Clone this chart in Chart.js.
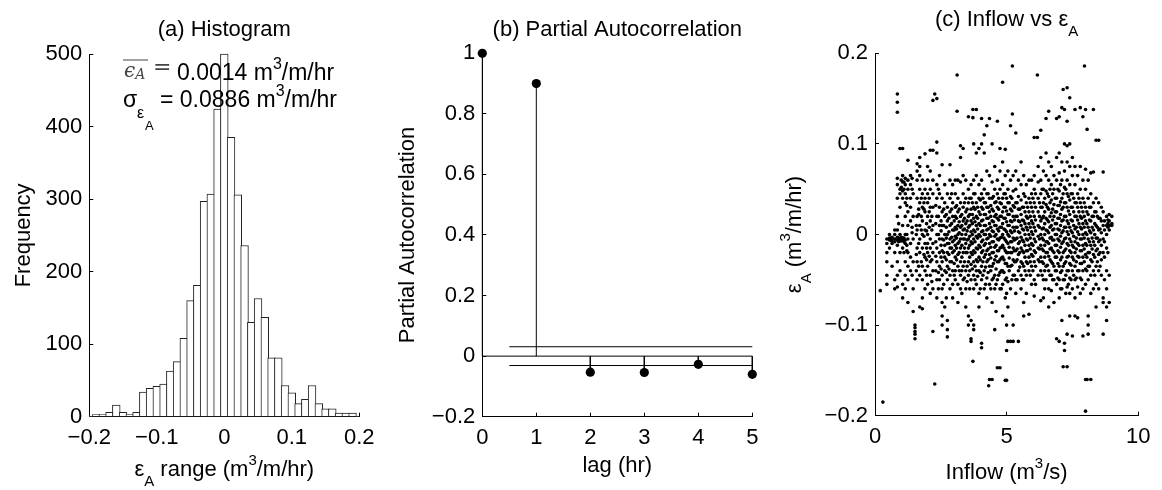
<!DOCTYPE html>
<html>
<head>
<meta charset="utf-8">
<script src="https://cdn.jsdelivr.net/npm/chart.js@4.4.1/dist/chart.umd.min.js"></script>
<style>
html, body { margin: 0; padding: 0; background: #fff; }
#wrap { position: relative; width: 1162px; height: 490px; }
canvas { position: absolute; left: 0; top: 0; }
</style>
</head>
<body>
<div id="wrap">
  <canvas id="histChart" width="1162" height="490"></canvas>
  <canvas id="pacfChart" width="1162" height="490"></canvas>
  <canvas id="inflowChart" width="1162" height="490"></canvas>
</div>
<script>
// (a) histogramme des erreurs
const binCenters = [-0.2, -0.19, -0.18, -0.17, -0.16, -0.15, -0.14, -0.13, -0.12, -0.11,
  -0.1, -0.09, -0.08, -0.07, -0.06, -0.05, -0.04, -0.03, -0.02, -0.01,
  0, 0.01, 0.02, 0.03, 0.04, 0.05, 0.06, 0.07, 0.08, 0.09,
  0.1, 0.11, 0.12, 0.13, 0.14, 0.15, 0.16, 0.17, 0.18, 0.19, 0.2];
const binCounts = [1, 3, 3, 6, 16, 6, 3, 6, 34, 39,
  42, 45, 63, 76, 108, 160, 181, 297, 307, 424,
  500, 385, 306, 236, 130, 163, 137, 81, 81, 43,
  33, 18, 24, 43, 18, 11, 11, 5, 5, 5, 1];
const histXTicks = [-0.2, -0.1, 0, 0.1, 0.2];
const histYTicks = [0, 100, 200, 300, 400, 500];

// (b) autocorrelation partielle
const lags = [0, 1, 2, 3, 4, 5];
const pacfValues = [1, 0.9, -0.053, -0.054, -0.027, -0.06];
const confBound = 0.031;
const confStart = 0.5;
const lagTicks = [0, 1, 2, 3, 4, 5];
const pacfTicks = [-0.2, 0, 0.2, 0.4, 0.6, 0.8, 1];

// (c) debit entrant vs erreur : [debit, erreurs...]
const inflowStreaks = [
  [0.2, -0.062], [0.3, -0.185],
  [0.45, -0.005, -0.01, -0.02, -0.03, -0.045, -0.055],
  [0.55, 0.0, -0.004, -0.006, -0.015],
  [0.65, -0.003, -0.006, -0.01, -0.035],
  [0.75, 0.005, 0.0, -0.005, -0.008, -0.02, -0.05, -0.06],
  [0.85, 0.155, 0.146, 0.135, 0.062, 0.055, 0.04, 0.02, 0.005, -0.003, -0.006, -0.012, -0.03, -0.045, -0.058],
  [0.95, 0.095, 0.05, 0.045, 0.03, 0.0, -0.005, -0.007, -0.02, -0.04],
  [1.05, 0.095, 0.065, 0.058, 0.048, 0.04, 0.01, -0.004, -0.006, -0.015, -0.055, -0.07],
  [1.15, 0.062, 0.055, 0.045, 0.035, 0.02, 0.0, -0.006, -0.01, -0.03, -0.045, -0.06],
  [1.25, 0.082, 0.06, 0.05, 0.025, 0.01, -0.005, -0.02, -0.035, -0.05, -0.075],
  [1.35, 0.065, 0.055, 0.04, 0.03, 0.015, -0.01, -0.025, -0.04],
  [1.45, 0.045, 0.02, -0.005, -0.03, -0.06, -0.085],
  [1.52, -0.1, -0.103, -0.107, -0.11, -0.115],
  [1.6, 0.078, 0.07, 0.06, 0.04, 0.02, 0.005, -0.015, -0.03, -0.05],
  [1.7, 0.085, 0.075, 0.065, 0.05, 0.035, 0.01, -0.005, -0.02, -0.045, -0.08],
  [1.8, 0.06, 0.045, 0.03, 0.015, 0.0, -0.015, -0.035, -0.05, -0.07, -0.082],
  [1.9, 0.089, 0.05, 0.04, 0.025, 0.005, -0.01, -0.025, -0.04, -0.06],
  [2.0, 0.075, 0.06, 0.045, 0.035, 0.02, 0.0, -0.01, -0.02, -0.035, -0.055],
  [2.1, 0.093, 0.07, 0.05, 0.03, 0.015, -0.005, -0.015, -0.03, -0.045, -0.065],
  [2.2, 0.148, 0.093, 0.06, 0.045, 0.03, 0.01, -0.01, -0.02, -0.04, -0.06, -0.107],
  [2.27, 0.155, -0.165],
  [2.35, 0.15, 0.102, 0.09, 0.055, 0.04, 0.02, 0.0, -0.015, -0.03, -0.05, -0.07],
  [2.45, 0.065, 0.045, 0.03, 0.01, -0.005, -0.02, -0.035, -0.05],
  [2.55, 0.077, 0.04, 0.025, 0.01, -0.005, -0.018, -0.03, -0.045, -0.06, -0.075, -0.09, -0.1],
  [2.65, 0.055, 0.035, 0.02, 0.0, -0.012, -0.025, -0.04, -0.08],
  [2.75, 0.045, 0.03, 0.015, 0.0, -0.01, -0.02, -0.035, -0.05, -0.095, -0.105, -0.113],
  [2.85, 0.077, 0.06, 0.04, 0.025, 0.01, -0.005, -0.015, -0.03, -0.045, -0.06],
  [2.95, 0.055, 0.035, 0.02, 0.005, -0.008, -0.02, -0.04, -0.055, -0.07],
  [3.05, 0.06, 0.045, 0.03, 0.02, 0.008, -0.002, -0.012, -0.025, -0.04, -0.05],
  [3.12, 0.176, 0.136],
  [3.15, 0.06, 0.04, 0.025, 0.01, 0.0, -0.01, -0.022, -0.035, -0.055, -0.075],
  [3.25, 0.098, 0.085, 0.058, 0.035, 0.02, 0.008, -0.005, -0.015, -0.03, -0.045, -0.06],
  [3.35, 0.095, 0.065, 0.045, 0.03, 0.015, 0.005, -0.005, -0.02, -0.035, -0.05],
  [3.45, 0.06, 0.04, 0.025, 0.012, 0.0, -0.01, -0.02, -0.04, -0.06, -0.08],
  [3.55, 0.13, 0.05, 0.035, 0.02, 0.008, -0.005, -0.015, -0.03, -0.045, -0.09, -0.1],
  [3.65, 0.055, 0.04, 0.028, 0.015, 0.003, -0.008, -0.02, -0.033, -0.05, -0.095, -0.115, -0.118],
  [3.72, 0.138, 0.129, -0.14],
  [3.75, 0.1, 0.06, 0.045, 0.03, 0.018, 0.005, -0.005, -0.018, -0.03, -0.045, -0.06, -0.1, -0.105],
  [3.85, 0.138, 0.09, 0.065, 0.035, 0.02, 0.01, -0.002, -0.015, -0.028, -0.04, -0.055],
  [3.95, 0.095, 0.055, 0.04, 0.025, 0.012, 0.0, -0.012, -0.025, -0.04, -0.065, -0.08],
  [4.05, 0.128, 0.1, 0.06, 0.045, 0.03, 0.015, 0.003, -0.008, -0.02, -0.035, -0.05, -0.12, -0.125],
  [4.15, 0.11, 0.09, 0.05, 0.035, 0.022, 0.01, 0.0, -0.012, -0.025, -0.04, -0.06],
  [4.25, 0.12, 0.07, 0.045, 0.03, 0.018, 0.005, -0.005, -0.018, -0.03, -0.048, -0.07],
  [4.32, -0.167],
  [4.35, 0.128, 0.065, 0.04, 0.025, 0.012, 0.0, -0.01, -0.022, -0.035, -0.055, -0.16],
  [4.45, 0.1, 0.058, 0.04, 0.028, 0.015, 0.004, -0.008, -0.02, -0.035, -0.05, -0.075, -0.16],
  [4.55, 0.075, 0.05, 0.035, 0.02, 0.01, -0.002, -0.014, -0.028, -0.045, -0.06, -0.105],
  [4.65, 0.125, 0.06, 0.045, 0.03, 0.018, 0.006, -0.005, -0.018, -0.03, -0.05, -0.147],
  [4.75, 0.095, 0.07, 0.05, 0.035, 0.02, 0.008, -0.004, -0.015, -0.028, -0.042, -0.06, -0.147],
  [4.85, 0.168, 0.08, 0.055, 0.04, 0.025, 0.012, 0.0, -0.012, -0.025, -0.04, -0.055, -0.09],
  [4.95, 0.094, 0.065, 0.045, 0.03, 0.018, 0.005, -0.006, -0.018, -0.032, -0.05, -0.07, -0.161],
  [5.0, -0.1, -0.128, -0.161],
  [5.05, 0.07, 0.05, 0.035, 0.022, 0.01, 0.0, -0.01, -0.02, -0.035, -0.052, -0.08, -0.118],
  [5.15, 0.12, 0.06, 0.042, 0.028, 0.015, 0.004, -0.008, -0.02, -0.035, -0.06, -0.118],
  [5.22, 0.186, 0.133],
  [5.25, 0.065, 0.048, 0.032, 0.02, 0.008, -0.004, -0.015, -0.028, -0.045, -0.1, -0.118],
  [5.35, 0.112, 0.07, 0.05, 0.035, 0.02, 0.008, -0.005, -0.018, -0.03, -0.05, -0.065],
  [5.45, 0.06, 0.042, 0.028, 0.015, 0.003, -0.01, -0.022, -0.04, -0.118],
  [5.55, 0.08, 0.055, 0.038, 0.022, 0.01, -0.003, -0.015, -0.03, -0.045, -0.06],
  [5.65, 0.065, 0.045, 0.03, 0.015, 0.005, -0.008, -0.02, -0.035, -0.05, -0.075, -0.09],
  [5.75, 0.055, 0.035, 0.02, 0.008, -0.005, -0.018, -0.03, -0.045, -0.065],
  [5.85, 0.06, 0.04, 0.025, 0.012, 0.0, -0.012, -0.025, -0.04, -0.088],
  [5.95, 0.06, 0.045, 0.03, 0.015, 0.003, -0.01, -0.022, -0.035, -0.055],
  [6.05, 0.107, 0.065, 0.05, 0.035, 0.02, 0.008, -0.005, -0.018, -0.03, -0.05, -0.068],
  [6.17, 0.176, 0.107],
  [6.2, 0.075, 0.058, 0.04, 0.025, 0.01, -0.002, -0.015, -0.028, -0.045],
  [6.3, 0.115, 0.085, 0.06, 0.045, 0.03, 0.015, 0.0, -0.012, -0.025, -0.04, -0.073],
  [6.4, 0.07, 0.05, 0.035, 0.02, 0.007, -0.006, -0.018, -0.032, -0.05, -0.07],
  [6.5, 0.128, 0.09, 0.065, 0.048, 0.033, 0.018, 0.005, -0.008, -0.02, -0.035, -0.05],
  [6.6, 0.136, 0.08, 0.06, 0.042, 0.028, 0.014, 0.002, -0.01, -0.024, -0.04, -0.06, -0.08],
  [6.7, 0.075, 0.055, 0.038, 0.024, 0.01, -0.003, -0.015, -0.03, -0.045, -0.062],
  [6.8, 0.065, 0.05, 0.033, 0.02, 0.006, -0.006, -0.02, -0.035, -0.05, -0.075],
  [6.9, 0.128, 0.085, 0.06, 0.04, 0.025, 0.012, 0.0, -0.012, -0.025, -0.04, -0.055, -0.115],
  [7.0, 0.13, 0.09, 0.068, 0.048, 0.032, 0.018, 0.005, -0.007, -0.02, -0.035, -0.05, -0.07, -0.118],
  [7.1, 0.14, 0.08, 0.06, 0.04, 0.028, 0.015, 0.002, -0.01, -0.025, -0.04, -0.06, -0.095],
  [7.15, 0.16, -0.146],
  [7.2, 0.138, 0.1, 0.07, 0.052, 0.035, 0.02, 0.008, -0.005, -0.018, -0.032, -0.05, -0.12, -0.128],
  [7.3, 0.162, 0.125, 0.098, 0.08, 0.06, 0.045, 0.03, 0.015, 0.003, -0.01, -0.025, -0.04, -0.058, -0.11, -0.146],
  [7.4, 0.151, 0.1, 0.075, 0.055, 0.038, 0.022, 0.008, -0.005, -0.018, -0.032, -0.048, -0.065, -0.09],
  [7.5, 0.085, 0.065, 0.045, 0.03, 0.015, 0.002, -0.012, -0.025, -0.04, -0.06, -0.112],
  [7.6, 0.138, 0.075, 0.055, 0.035, 0.02, 0.006, -0.008, -0.02, -0.035, -0.05, -0.07, -0.09],
  [7.7, 0.065, 0.045, 0.03, 0.016, 0.003, -0.01, -0.024, -0.04, -0.058, -0.092],
  [7.8, 0.14, 0.075, 0.05, 0.035, 0.02, 0.008, -0.005, -0.018, -0.032, -0.048, -0.065],
  [7.9, 0.13, 0.06, 0.04, 0.025, 0.012, 0.0, -0.012, -0.025, -0.04, -0.06, -0.112],
  [7.96, 0.186],
  [8.0, 0.138, 0.072, 0.05, 0.03, 0.015, 0.002, -0.01, -0.022, -0.038, -0.055, -0.16, -0.195],
  [8.06, 0.116, -0.16],
  [8.1, 0.06, 0.04, 0.022, 0.008, -0.005, -0.02, -0.035, -0.05, -0.09, -0.1, -0.11],
  [8.2, 0.068, 0.045, 0.03, 0.015, 0.002, -0.012, -0.028, -0.045, -0.065, -0.16],
  [8.3, 0.138, 0.069, 0.035, 0.02, 0.005, -0.008, -0.022, -0.04, -0.06],
  [8.4, 0.104, 0.04, 0.025, 0.01, -0.004, -0.018, -0.035, -0.055, -0.08],
  [8.5, 0.104, 0.035, 0.018, 0.005, -0.008, -0.022, -0.04, -0.06],
  [8.6, 0.03, 0.015, 0.002, -0.012, -0.028, -0.045],
  [8.67, 0.069, 0.025, 0.01, -0.005, -0.02, -0.07, -0.075, -0.11],
  [8.8, 0.02, 0.01, 0.0, -0.015, -0.04, -0.06, -0.08, -0.095],
  [8.9, 0.022, 0.015, 0.01, 0.005, -0.045, -0.075],
  [9.0, 0.02, 0.012, 0.01]
];
// noyau dense autour de zero
const inflowCore = [
  [0.62, -0.004, -0.005, -0.006, -0.007],
  [0.9, 0.012, -0.004, -0.005, -0.006, -0.008],
  [1.0, 0.06, 0.052, -0.003, -0.005, -0.007],
  [1.1, 0.058, 0.05, -0.004, -0.008, -0.02],
  [1.21, 0.04, 0.032, 0.0, -0.012, -0.018],
  [1.41, 0.062, 0.05, 0.008, 0.002, -0.045],
  [1.57, 0.01, 0.0, -0.022, -0.04],
  [1.66, 0.028, 0.022, -0.01, -0.035],
  [1.76, 0.04, 0.02, 0.005, -0.03],
  [1.86, 0.035, 0.028, -0.002, -0.022],
  [1.96, 0.012, 0.004, -0.015, -0.028, -0.045],
  [2.06, 0.04, 0.025, 0.008, -0.024],
  [2.16, 0.02, 0.005, -0.028, -0.052],
  [2.31, 0.032, 0.012, -0.008, -0.024, -0.04],
  [2.41, 0.05, 0.02, 0.0, -0.042, -0.06],
  [2.51, 0.015, 0.004, -0.012, -0.025, -0.038],
  [2.61, 0.028, 0.01, -0.006, -0.02, -0.055],
  [2.71, 0.022, 0.008, -0.004, -0.028, -0.042, -0.07],
  [2.81, 0.018, 0.003, -0.01, -0.022, -0.038],
  [2.91, 0.045, 0.028, 0.012, -0.003, -0.015, -0.03],
  [3.01, 0.015, 0.005, -0.006, -0.018, -0.032, -0.045],
  [3.1, 0.032, 0.018, 0.006, -0.004, -0.015, -0.028],
  [3.2, 0.028, 0.014, 0.002, -0.008, -0.02, -0.04],
  [3.3, 0.022, 0.01, 0.0, -0.012, -0.025, -0.04, -0.065],
  [3.4, 0.035, 0.018, 0.006, -0.005, -0.015, -0.03, -0.048],
  [3.5, 0.028, 0.015, 0.004, -0.006, -0.02, -0.035, -0.052],
  [3.6, 0.04, 0.022, 0.01, -0.002, -0.012, -0.025, -0.04, -0.06],
  [3.7, 0.035, 0.022, 0.012, 0.0, -0.01, -0.022, -0.038],
  [3.8, 0.045, 0.028, 0.014, 0.003, -0.008, -0.02, -0.035, -0.05],
  [3.9, 0.03, 0.018, 0.006, -0.004, -0.016, -0.03, -0.046],
  [4.0, 0.038, 0.022, 0.01, -0.002, -0.014, -0.028, -0.042, -0.06],
  [4.1, 0.04, 0.028, 0.016, 0.004, -0.006, -0.018, -0.03, -0.045],
  [4.2, 0.035, 0.022, 0.01, 0.0, -0.01, -0.022, -0.036, -0.055],
  [4.3, 0.045, 0.03, 0.018, 0.006, -0.004, -0.016, -0.028, -0.042],
  [4.4, 0.032, 0.02, 0.008, -0.002, -0.014, -0.026, -0.04, -0.06],
  [4.5, 0.042, 0.026, 0.014, 0.003, -0.008, -0.02, -0.032, -0.048],
  [4.6, 0.036, 0.022, 0.01, 0.0, -0.012, -0.024, -0.038, -0.055, -0.085],
  [4.7, 0.04, 0.028, 0.016, 0.004, -0.006, -0.018, -0.03, -0.045],
  [4.8, 0.034, 0.02, 0.008, -0.003, -0.014, -0.026, -0.04, -0.06],
  [4.9, 0.045, 0.03, 0.018, 0.006, -0.004, -0.015, -0.028, -0.042],
  [5.0, 0.04, 0.026, 0.014, 0.003, -0.008, -0.02, -0.032, -0.048, -0.065],
  [5.1, 0.035, 0.022, 0.01, -0.002, -0.014, -0.026, -0.04],
  [5.2, 0.04, 0.026, 0.014, 0.002, -0.008, -0.02, -0.034, -0.05],
  [5.3, 0.03, 0.016, 0.004, -0.006, -0.018, -0.03, -0.045],
  [5.4, 0.035, 0.02, 0.008, -0.004, -0.016, -0.028, -0.05],
  [5.5, 0.028, 0.014, 0.002, -0.008, -0.02, -0.036],
  [5.6, 0.03, 0.016, 0.006, -0.006, -0.018, -0.032, -0.05],
  [5.7, 0.042, 0.025, 0.012, 0.0, -0.012, -0.025, -0.04],
  [5.8, 0.03, 0.018, 0.005, -0.006, -0.018, -0.032],
  [5.9, 0.035, 0.02, 0.008, -0.004, -0.016, -0.03, -0.045],
  [6.0, 0.04, 0.025, 0.012, 0.0, -0.012, -0.024, -0.04],
  [6.1, 0.045, 0.03, 0.016, 0.004, -0.008, -0.02, -0.035, -0.055],
  [6.25, 0.035, 0.02, 0.008, -0.005, -0.016, -0.03],
  [6.35, 0.05, 0.03, 0.018, 0.006, -0.004, -0.016, -0.03, -0.045],
  [6.45, 0.04, 0.025, 0.012, 0.0, -0.012, -0.025, -0.04, -0.06],
  [6.55, 0.045, 0.03, 0.016, 0.004, -0.008, -0.02, -0.034],
  [6.65, 0.05, 0.035, 0.02, 0.008, -0.004, -0.016, -0.028, -0.045],
  [6.75, 0.045, 0.028, 0.016, 0.005, -0.006, -0.018, -0.032, -0.05],
  [6.85, 0.04, 0.025, 0.012, 0.0, -0.012, -0.025, -0.04],
  [6.95, 0.05, 0.032, 0.018, 0.006, -0.005, -0.018, -0.032, -0.048],
  [7.05, 0.055, 0.036, 0.022, 0.01, -0.002, -0.014, -0.028, -0.042, -0.06],
  [7.15, 0.045, 0.03, 0.016, 0.004, -0.008, -0.02, -0.035, -0.05],
  [7.25, 0.05, 0.035, 0.02, 0.008, -0.004, -0.016, -0.03, -0.045, -0.065],
  [7.35, 0.042, 0.026, 0.012, 0.0, -0.012, -0.024, -0.04, -0.055],
  [7.45, 0.045, 0.03, 0.016, 0.004, -0.008, -0.02, -0.034, -0.05],
  [7.55, 0.04, 0.025, 0.01, -0.002, -0.014, -0.028, -0.045],
  [7.65, 0.035, 0.02, 0.008, -0.004, -0.016, -0.03, -0.048],
  [7.75, 0.04, 0.025, 0.012, 0.0, -0.012, -0.025, -0.04],
  [7.85, 0.03, 0.018, 0.006, -0.005, -0.018, -0.032, -0.05],
  [7.95, 0.035, 0.02, 0.008, -0.004, -0.016, -0.03],
  [8.05, 0.025, 0.012, 0.0, -0.012, -0.025, -0.04],
  [8.15, 0.03, 0.016, 0.004, -0.008, -0.02, -0.035],
  [8.25, 0.02, 0.008, -0.004, -0.016, -0.03],
  [8.35, 0.025, 0.012, 0.0, -0.012, -0.025, -0.045],
  [8.45, 0.02, 0.008, -0.004, -0.016, -0.03],
  [8.55, 0.018, 0.006, -0.006, -0.02, -0.035],
  [8.72, 0.015, 0.005, -0.008, -0.025, -0.05],
  [8.85, 0.016, 0.012, 0.008, -0.02]
];
const inflowTicks = [0, 5, 10];
const errTicks = [-0.2, -0.1, 0, 0.1, 0.2];

Chart.defaults.font.family = '"Liberation Sans", Arial, sans-serif';
Chart.defaults.font.size = 22;
Chart.defaults.color = '#000';

const SANS = '"Liberation Sans", Arial, sans-serif';

function fmt(v) {
    const r = Math.round(v * 1000) / 1000;
    return r < 0 ? '\u2212' + String(-r) : String(r);
}

// axe style MATLAB : graduations vers l'interieur, pas de grille
function axis(min, max, ticks, isY, size) {
    return {
        type: 'linear', min: min, max: max, offset: false,
        afterBuildTicks: s => { s.ticks = ticks.map(v => ({ value: v })); },
        afterFit: s => { if (isY) s.width = size; else s.height = size; },
        grid: { drawOnChartArea: false, drawTicks: true, tickLength: -4, color: '#000', offset: false },
        border: { display: true, color: '#000', width: 1 },
        ticks: { padding: isY ? 11 : 11.6, color: '#000', font: { size: 22 }, autoSkip: false, maxRotation: 0, callback: v => fmt(v) }
    };
}

// texte avec indices / exposants
function rich(ctx, segs, x, y, align, rot) {
    const fonts = { 0: '22px ' + SANS, 1: '15px ' + SANS, '-1': '15px ' + SANS };
    const dy = { 0: 0, 1: 10, '-1': -11 };
    let total = 0;
    const widths = segs.map(sg => {
        ctx.font = fonts[sg.s || 0];
        const w = ctx.measureText(sg.t).width;
        total += w;
        return w;
    });
    ctx.save();
    ctx.translate(x, y);
    if (rot) ctx.rotate(-Math.PI / 2);
    ctx.fillStyle = '#000';
    ctx.textAlign = 'left';
    ctx.textBaseline = 'alphabetic';
    let cx = align === 'center' ? -total / 2 : 0;
    segs.forEach((sg, i) => {
        ctx.font = fonts[sg.s || 0];
        ctx.fillText(sg.t, cx, dy[sg.s || 0]);
        cx += widths[i];
    });
    ctx.restore();
    return total;
}

function put(ctx, text, x, y, font, color) {
    ctx.font = font;
    ctx.fillStyle = color || '#000';
    ctx.textAlign = 'left';
    ctx.textBaseline = 'alphabetic';
    ctx.fillText(text, x, y);
    return ctx.measureText(text).width;
}

const basePlugins = { legend: { display: false }, tooltip: { enabled: false } };

// Graphique (a)
new Chart(document.getElementById('histChart'), {
    type: 'bar',
    data: {
        datasets: [{
            data: binCenters.map((c, i) => ({ x: c, y: binCounts[i] })),
            backgroundColor: '#fff',
            borderColor: '#222',
            borderWidth: 1,
            barThickness: 7.75,
            clip: { left: 0, right: 0, top: 4, bottom: 0 }
        }]
    },
    options: {
        responsive: false, animation: false, devicePixelRatio: 1,
        layout: { padding: { left: 0, top: 54, right: 802.7, bottom: 0 } },
        plugins: basePlugins,
        scales: {
            x: axis(-0.2, 0.2, histXTicks, false, 73.3),
            y: axis(0, 500, histYTicks, true, 89.3)
        }
    },
    plugins: [{
        id: 'histText',
        afterDraw(chart) {
            const ctx = chart.ctx, a = chart.chartArea;
            const cx = (a.left + a.right) / 2;
            rich(ctx, [{ t: '(a) Histogram' }], cx, 36, 'center');
            rich(ctx, [{ t: 'Frequency' }], 30, (a.top + a.bottom) / 2, 'center', true);
            rich(ctx, [{ t: 'ε' }, { t: 'A', s: 1 }, { t: ' range (m' }, { t: '3', s: -1 }, { t: '/m/hr)' }], cx, 476, 'center');
            ctx.save();
            // moyenne
            let w = put(ctx, 'ϵ', 124, 77, 'italic 20px "DejaVu Serif"', '#444');
            put(ctx, 'A', 124 + w, 79, 'italic 14px "DejaVu Serif"', '#444');
            ctx.fillStyle = '#444';
            ctx.fillRect(123, 59.5, 25, 1);
            put(ctx, '=', 153, 74, '22px "DejaVu Serif"', '#444');
            let x = 177;
            x += put(ctx, '0.0014 m', x, 80, '23px ' + SANS);
            x += put(ctx, '3', x, 69, '16px ' + SANS);
            put(ctx, '/m/hr', x, 80, '23px ' + SANS);
            // ecart type
            put(ctx, 'σ', 123, 107, '23px ' + SANS);
            put(ctx, 'ε', 137, 118, '16px ' + SANS);
            put(ctx, 'A', 145, 130, '13px ' + SANS);
            x = 160;
            x += put(ctx, '= 0.0886 m', x, 107, '23px ' + SANS);
            x += put(ctx, '3', x, 96, '16px ' + SANS);
            put(ctx, '/m/hr', x, 107, '23px ' + SANS);
            ctx.restore();
        }
    }]
});

// Graphique (b)
const stemSets = lags.map((lag, i) => ({
    data: [{ x: lag, y: 0 }, { x: lag, y: pacfValues[i] }],
    showLine: true, borderColor: '#000', borderWidth: 1, pointRadius: 0, clip: false
}));
const lineSet = (y0, x0) => ({
    data: [{ x: x0, y: y0 }, { x: lags[lags.length - 1], y: y0 }],
    showLine: true, borderColor: '#000', borderWidth: 1, pointRadius: 0, clip: false
});

new Chart(document.getElementById('pacfChart'), {
    type: 'scatter',
    data: {
        datasets: [
            ...stemSets,
            lineSet(0, lags[0]),
            lineSet(confBound, confStart),
            lineSet(-confBound, confStart),
            {
                data: lags.map((lag, i) => ({ x: lag, y: pacfValues[i] })),
                pointRadius: 4.6, pointBackgroundColor: '#000', pointBorderWidth: 0, showLine: false, clip: false
            }
        ]
    },
    options: {
        responsive: false, animation: false, devicePixelRatio: 1,
        layout: { padding: { left: 402.3, top: 53.3, right: 409.7, bottom: 0 } },
        plugins: basePlugins,
        scales: {
            x: axis(0, 5, lagTicks, false, 73.3),
            y: axis(-0.2, 1, pacfTicks, true, 80)
        }
    },
    plugins: [{
        id: 'pacfText',
        afterDraw(chart) {
            const ctx = chart.ctx, a = chart.chartArea;
            const cx = (a.left + a.right) / 2;
            rich(ctx, [{ t: '(b) Partial Autocorrelation' }], cx, 36, 'center');
            rich(ctx, [{ t: 'Partial Autocorrelation' }], 414, (a.top + a.bottom) / 2, 'center', true);
            rich(ctx, [{ t: 'lag (hr)' }], cx, 472, 'center');
        }
    }]
});

// Graphique (c)
const toPoints = list => list.flatMap(([q, ...errs]) => errs.map(e => ({ x: q, y: e })));

new Chart(document.getElementById('inflowChart'), {
    type: 'scatter',
    data: {
        datasets: [{
            data: toPoints(inflowStreaks).concat(toPoints(inflowCore)),
            pointRadius: 1.8, pointBackgroundColor: '#000', pointBorderWidth: 0, clip: false
        }]
    },
    options: {
        responsive: false, animation: false, devicePixelRatio: 1,
        layout: { padding: { left: 795, top: 53.3, right: 17, bottom: 0 } },
        plugins: basePlugins,
        scales: {
            x: axis(0, 10, inflowTicks, false, 74.3),
            y: axis(-0.2, 0.2, errTicks, true, 80)
        }
    },
    plugins: [{
        id: 'inflowText',
        afterDraw(chart) {
            const ctx = chart.ctx, a = chart.chartArea;
            const cx = (a.left + a.right) / 2;
            rich(ctx, [{ t: '(c) Inflow vs ε' }, { t: 'A', s: 1 }], cx, 26, 'center');
            rich(ctx, [{ t: 'ε' }, { t: 'A', s: 1 }, { t: ' (m' }, { t: '3', s: -1 }, { t: '/m/hr)' }], 801, (a.top + a.bottom) / 2, 'center', true);
            rich(ctx, [{ t: 'Inflow (m' }, { t: '3', s: -1 }, { t: '/s)' }], cx, 479, 'center');
        }
    }]
});
</script>
</body>
</html>
